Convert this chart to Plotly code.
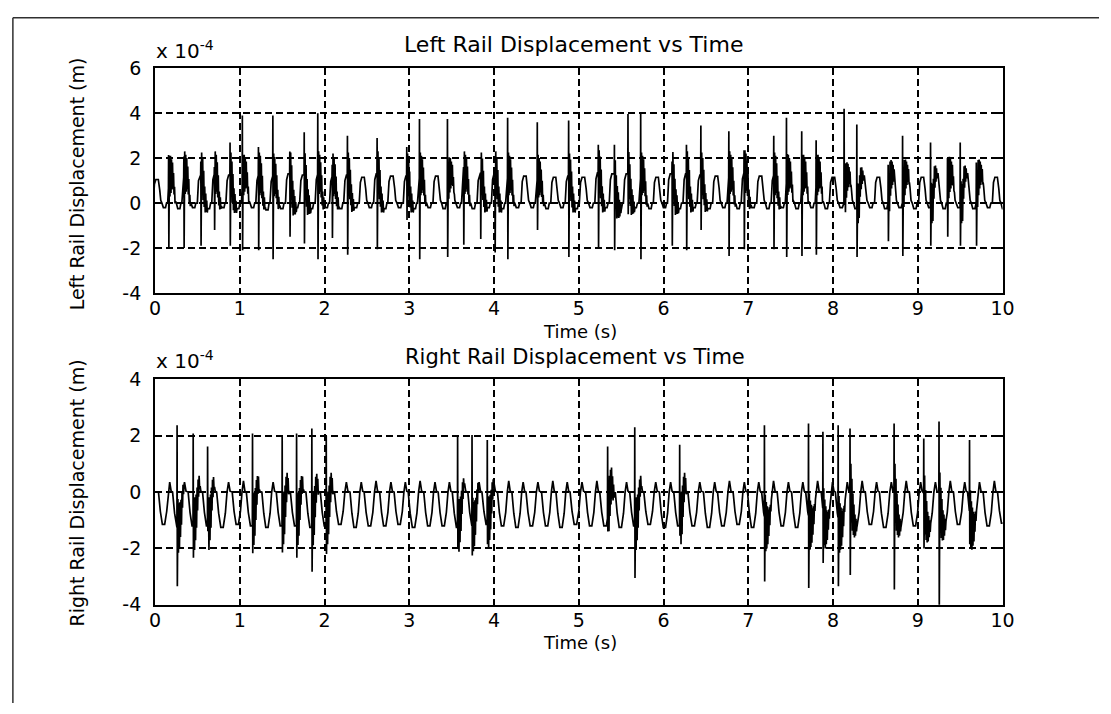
import numpy as np
import plotly.graph_objects as go

W, H = 1111, 714

# ---------------- data (units of 1e-4 m) ----------------
time_ticks = [0, 1, 2, 3, 4, 5, 6, 7, 8, 9, 10]
left_yticks = [-4, -2, 0, 2, 4, 6]
right_yticks = [-4, -2, 0, 2, 4]

# Left rail: centre times of the periodic humps, hump heights, small dips
left_hump_t = [0.03, 0.20, 0.37, 0.55, 0.72, 0.89, 1.07, 1.24, 1.41, 1.59,
               1.76, 1.94, 2.11, 2.28, 2.46, 2.63, 2.80, 2.98, 3.15, 3.33,
               3.50, 3.67, 3.85, 4.02, 4.19, 4.37, 4.54, 4.72, 4.89, 5.06,
               5.24, 5.41, 5.58, 5.76, 5.93, 6.10, 6.28, 6.45, 6.63, 6.80,
               6.97, 7.15, 7.32, 7.49, 7.67, 7.84, 8.01, 8.19, 8.36, 8.54,
               8.71, 8.88, 9.06, 9.23, 9.40, 9.58, 9.75, 9.93, 10.10]
left_hump_pk = [1.05, 1.25, 1.3, 1.25, 1.3, 1.25, 1.3, 1.25, 1.2, 1.3,
                1.25, 1.3, 1.2, 1.25, 1.15, 1.3, 1.2, 1.2, 1.25, 1.2,
                1.3, 1.3, 1.25, 1.3, 1.25, 1.2, 1.15, 1.15, 1.2, 1.15,
                1.35, 1.3, 1.3, 1.25, 1.15, 1.3, 1.3, 1.25, 1.2, 1.3,
                1.35, 1.2, 1.25, 1.3, 1.3, 1.3, 1.15, 1.2, 1.2, 1.15,
                1.3, 1.3, 1.15, 1.3, 1.3, 1.3, 1.3, 1.15, 1.1]
left_dip = [-0.2, -0.25, -0.2, -0.25, -0.2, -0.25, -0.2, -0.3, -0.25, -0.2,
            -0.25, -0.2, -0.25, -0.2, -0.2, -0.25, -0.2, -0.25, -0.2, -0.25,
            -0.2, -0.25, -0.2, -0.25, -0.2, -0.2, -0.25, -0.2, -0.25, -0.2,
            -0.2, -0.25, -0.2, -0.25, -0.2, -0.25, -0.2, -0.25, -0.2, -0.25,
            -0.2, -0.25, -0.2, -0.25, -0.2, -0.25, -0.2, -0.25, -0.2, -0.25,
            -0.2, -0.25, -0.2, -0.25, -0.2, -0.25, -0.2, -0.25, -0.2]
# Left rail impact spikes: time, maximum, minimum
left_spike_t = [0.16, 0.34, 0.54, 0.70, 0.885, 1.03, 1.22, 1.39, 1.59, 1.76,
                1.92, 2.09, 2.27, 2.62, 2.97, 3.12, 3.45, 3.64, 3.84, 4.01,
                4.16, 4.51, 4.88, 5.23, 5.42, 5.58, 5.73, 6.10, 6.27, 6.44,
                6.77, 6.95, 7.30, 7.45, 7.63, 7.80, 8.13, 8.28, 8.65, 8.82,
                9.15, 9.35, 9.50, 9.69]
left_spike_hi = [2.14, 2.07, 1.85, 1.6, 2.7, 3.9, 2.5, 3.9, 2.3, 3.15,
                 4.0, 1.7, 3.0, 2.9, 2.5, 3.74, 3.74, 1.6, 1.35, 1.35,
                 3.8, 3.6, 3.67, 2.6, 2.6, 3.96, 4.0, 1.85, 2.6, 3.45,
                 3.2, 2.35, 3.0, 3.8, 3.2, 2.8, 4.2, 3.5, 1.7, 3.0,
                 2.7, 2.0, 2.7, 1.8]
left_spike_lo = [-2.0, -2.0, -1.9, -1.2, -1.9, -2.1, -2.1, -2.5, -1.5, -1.8,
                 -2.5, -1.55, -2.3, -2.05, -0.75, -2.5, -2.4, -1.85, -1.6, -2.2,
                 -2.5, -1.2, -2.4, -2.0, -2.1, -0.5, -2.5, -1.9, -2.1, -1.2,
                 -2.35, -2.05, -2.05, -2.4, -2.35, -2.3, 0.0, -2.4, -1.7, -2.35,
                 -1.9, -1.5, -1.9, -1.9]

# Right rail: centre times of the periodic valleys, valley depths, small peaks
right_valley_t = [0.10, 0.27, 0.45, 0.62, 0.79, 0.97, 1.14, 1.32, 1.49, 1.66,
                  1.84, 2.01, 2.18, 2.36, 2.53, 2.71, 2.88, 3.05, 3.23, 3.40,
                  3.57, 3.75, 3.92, 4.10, 4.27, 4.44, 4.62, 4.79, 4.96, 5.14,
                  5.31, 5.49, 5.66, 5.83, 6.01, 6.18, 6.35, 6.53, 6.70, 6.88,
                  7.05, 7.22, 7.40, 7.57, 7.74, 7.92, 8.09, 8.27, 8.44, 8.61,
                  8.79, 8.96, 9.13, 9.31, 9.48, 9.65, 9.83, 10.00]
right_valley_v = [-1.15, -1.25, -1.2, -1.2, -1.25, -1.15, -1.2, -1.25, -1.2, -1.2,
                  -1.25, -1.2, -1.15, -1.25, -1.2, -1.2, -1.15, -1.25, -1.2, -1.2,
                  -1.25, -1.2, -1.15, -1.2, -1.25, -1.2, -1.2, -1.25, -1.15, -1.2,
                  -1.2, -1.25, -1.2, -1.15, -1.25, -1.2, -1.2, -1.25, -1.2, -1.15,
                  -1.25, -1.2, -1.2, -1.25, -1.15, -1.2, -1.25, -1.2, -1.15, -1.25,
                  -1.2, -1.2, -1.25, -1.2, -1.15, -1.25, -1.2, -1.1]
right_peak_v = [0.35, 0.35, 0.4, 0.35, 0.35, 0.4, 0.35, 0.35, 0.4, 0.35,
                0.35, 0.4, 0.35, 0.35, 0.4, 0.35, 0.35, 0.4, 0.35, 0.35,
                0.4, 0.35, 0.35, 0.4, 0.35, 0.35, 0.4, 0.35, 0.35, 0.4,
                0.35, 0.35, 0.4, 0.35, 0.35, 0.4, 0.35, 0.35, 0.4, 0.35,
                0.35, 0.4, 0.35, 0.35, 0.4, 0.35, 0.35, 0.4, 0.35, 0.35,
                0.4, 0.35, 0.35, 0.4, 0.35, 0.35, 0.4, 0.35]
# Right rail impact spikes: time, maximum, minimum
right_spike_t = [0.26, 0.45, 0.62, 1.15, 1.50, 1.67, 1.85, 2.02, 3.57, 3.74,
                 3.92, 5.34, 5.66, 6.19, 7.19, 7.71, 7.88, 8.06, 8.20, 8.72,
                 9.07, 9.25, 9.61]
right_spike_hi = [2.37, 2.08, 1.62, 2.08, 2.0, 2.08, 2.25, 2.0, 2.02, 2.02,
                  1.85, 1.62, 2.3, 1.68, 2.37, 2.43, 2.14, 2.37, 2.25, 2.43,
                  1.9, 2.5, 1.85]
right_spike_lo = [-3.34, -2.33, -1.39, -2.17, -2.14, -2.33, -2.83, -2.2, -2.02, -2.25,
                  -1.85, -1.4, -3.05, -1.55, -3.17, -3.4, -2.52, -3.34, -2.94, -3.46,
                  -2.0, -4.3, -1.85]

# ringing after each impact (multiplier of ring amplitude)
ring_shape = [1.0, -0.9, 0.85, -0.8, 0.7, -0.65, 0.55, -0.5, 0.4, -0.35, 0.25, -0.2]
ring_amp = 1.0


# ---------------- build polylines ----------------
def build_wave(centres, frac, vals_fn):
    tt, yy = [], []
    for i, tc in enumerate(centres):
        if i + 1 < len(centres):
            P = centres[i + 1] - tc
        else:
            P = tc - centres[i - 1]
        vals = vals_fn(i)
        for f, v in zip(frac, vals):
            tt.append(tc + f * P)
            yy.append(v)
    return np.array(tt), np.array(yy)


def left_vals(i):
    pk, dp = left_hump_pk[i], left_dip[i]
    return [0.0, 0.8 * pk, pk, pk, 0.55 * pk, 0.12, 0.0, dp, dp, 0.0]


def right_vals(i):
    v, p = right_valley_v[i], right_peak_v[i]
    return [0.0, 0.6 * v, v, v, 0.6 * v, 0.0, p, 0.03, 0.0]


left_frac = [-0.30, -0.22, -0.12, 0.05, 0.15, 0.22, 0.30, 0.40, 0.55, 0.62]
right_frac = [-0.35, -0.22, -0.08, 0.08, 0.22, 0.33, 0.43, 0.53, 0.60]


def add_spikes(t, y, st, hi, lo):
    step = 0.006
    keep = np.ones(len(t), bool)
    nt, ny = [], []
    for ts, h, l in zip(st, hi, lo):
        t0 = ts - 0.002
        rt = [ts + 0.004 + k * step for k in range(1, len(ring_shape) + 1)]
        t_end = rt[-1] + step
        keep &= ~((t >= t0) & (t <= t_end))
        nt += [t0, ts, ts + 0.003] + rt + [t_end]
        ny += ([float(np.interp(t0, t, y)), h, l]
               + [float(np.interp(r, t, y)) + ring_amp * s for r, s in zip(rt, ring_shape)]
               + [float(np.interp(t_end, t, y))])
    at = np.concatenate([t[keep], nt])
    ay = np.concatenate([y[keep], ny])
    o = np.argsort(at, kind="stable")
    return at[o], ay[o]


lt, ly = build_wave(left_hump_t, left_frac, left_vals)
lt, ly = add_spikes(lt, ly, left_spike_t, left_spike_hi, left_spike_lo)
rt_, ry = build_wave(right_valley_t, right_frac, right_vals)
rt_, ry = add_spikes(rt_, ry, right_spike_t, right_spike_hi, right_spike_lo)

# ---------------- figure ----------------
FONT = "DejaVu Sans"
fig = go.Figure()
fig.add_trace(go.Scatter(x=lt, y=ly, mode="lines", xaxis="x", yaxis="y",
                         line=dict(color="black", width=1.7), hoverinfo="skip"))
fig.add_trace(go.Scatter(x=rt_, y=ry, mode="lines", xaxis="x2", yaxis="y2",
                         line=dict(color="black", width=1.7), hoverinfo="skip"))


def px_x(x):
    return x / W


def px_y(y):
    return 1 - y / H


xdom = [px_x(151.5), px_x(1013)]
ax_common = dict(showline=True, linecolor="black", linewidth=2, mirror="allticks",
                 ticks="inside", ticklen=5, tickcolor="black", tickwidth=1.5,
                 showgrid=True, gridcolor="black", gridwidth=1.5, griddash="7px,4px",
                 zeroline=False, tickfont=dict(family=FONT, size=19, color="black"))

fig.update_layout(
    width=W, height=H, margin=dict(l=0, r=0, t=0, b=0),
    paper_bgcolor="white", plot_bgcolor="white", showlegend=False,
    xaxis=dict(domain=xdom, anchor="y", range=[0, 10], tickvals=time_ticks,
               ticktext=[str(v) for v in time_ticks], ticklabelstandoff=-3, **ax_common),
    yaxis=dict(domain=[px_y(291), px_y(59)], anchor="x", range=[-4, 6],
               tickvals=left_yticks, ticktext=[str(v) for v in left_yticks],
               ticklabelstandoff=8, **ax_common),
    xaxis2=dict(domain=xdom, anchor="y2", range=[0, 10], tickvals=time_ticks,
                ticktext=[str(v) for v in time_ticks], ticklabelstandoff=-3, **ax_common),
    yaxis2=dict(domain=[px_y(612.7), px_y(380)], anchor="x2", range=[-4, 4],
                tickvals=right_yticks, ticktext=[str(v) for v in right_yticks],
                ticklabelstandoff=8, **ax_common),
)

ann = []


def text(s, x, y, size, xanchor="center", yanchor="middle", angle=0):
    ann.append(dict(text=s, x=px_x(x), y=px_y(y), xref="paper", yref="paper",
                    showarrow=False, xanchor=xanchor, yanchor=yanchor, textangle=angle,
                    font=dict(family=FONT, size=size, color="black")))


text("Left Rail Displacement vs Time", 577, 35, 22)
text("Right Rail Displacement vs Time", 578, 357, 21)
text("Time (s)", 583, 331, 18)
text("Time (s)", 583, 652, 18)
text("Left Rail Displacement (m)", 72, 178, 19, angle=-90)
text("Right Rail Displacement (m)", 72, 497, 19, angle=-90)
text("x 10<sup>-4</sup>", 150, 40, 20, xanchor="left")
text("x 10<sup>-4</sup>", 150, 360, 20, xanchor="left")
fig.update_layout(annotations=ann)

# frame lines of the original window (left and top edges only)
fig.add_shape(type="line", xref="paper", yref="paper", x0=px_x(7), x1=px_x(7),
              y0=0, y1=px_y(7), line=dict(color="#303030", width=1.5))
fig.add_shape(type="line", xref="paper", yref="paper", x0=px_x(7), x1=1,
              y0=px_y(7), y1=px_y(7), line=dict(color="#303030", width=1.5))

fig.write_html("out.html")
